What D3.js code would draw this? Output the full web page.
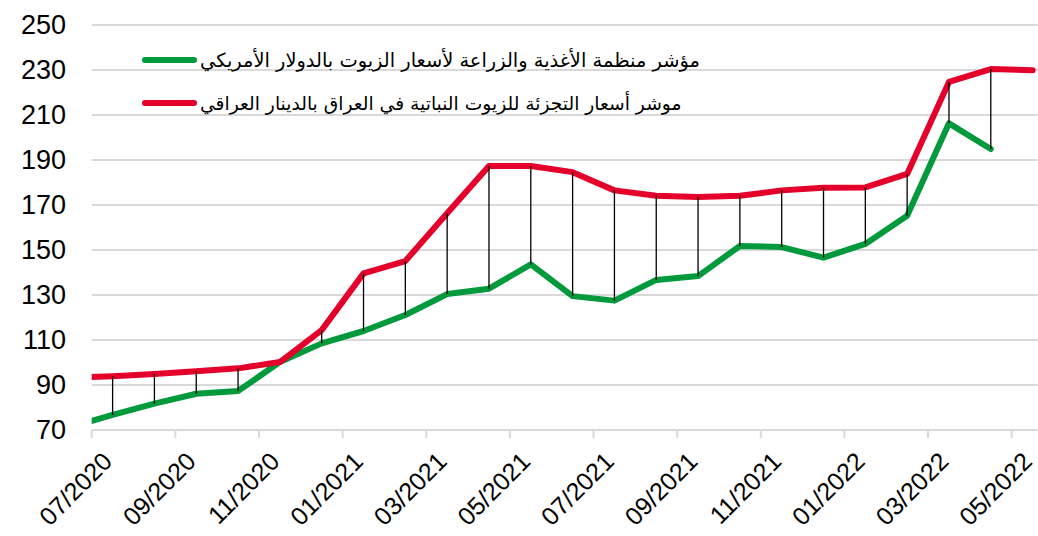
<!DOCTYPE html>
<html>
<head>
<meta charset="utf-8">
<script src="https://cdn.jsdelivr.net/npm/d3@7"></script>
<style>
  html, body { margin: 0; padding: 0; background: #ffffff; }
  svg { display: block; }
</style>
</head>
<body>
<svg id="chart" width="1038" height="536"></svg>
<script>
// ---- Data (monthly, starting 06/2020; first point is outside the visible axis) ----
const months = ["06/2020","07/2020","08/2020","09/2020","10/2020","11/2020","12/2020",
                "01/2021","02/2021","03/2021","04/2021","05/2021","06/2021","07/2021",
                "08/2021","09/2021","10/2021","11/2021","12/2021","01/2022","02/2022",
                "03/2022","04/2022","05/2022"];
const faoIndex = [71.4, 76.7, 81.7, 86.1, 87.3, 100.2, 108.5, 114.0, 121.1, 130.4, 132.8,
                  143.6, 129.5, 127.5, 136.7, 138.4, 151.8, 151.3, 146.6, 152.7, 165.2,
                  206.3, 194.9, null];
const retailIndex = [93.3, 93.9, 94.9, 96.1, 97.4, 100.2, 114.4, 139.6, 145.1, 166.3, 187.3,
                     187.3, 184.6, 176.5, 174.1, 173.6, 174.1, 176.5, 177.7, 177.8, 183.8,
                     224.7, 230.4, 229.9];
const xTickLabels = ["07/2020","09/2020","11/2020","01/2021","03/2021","05/2021",
                     "07/2021","09/2021","11/2021","01/2022","03/2022","05/2022"];
const yTicks = [70, 90, 110, 130, 150, 170, 190, 210, 230, 250];
const seriesNames = ["مؤشر منظمة الأغذية والزراعة لأسعار الزيوت بالدولار الأمريكي",
                     "موشر أسعار التجزئة للزيوت النباتية في العراق بالدينار العراقي"];

(function () {
// ---- Layout ----
const svg = d3.select("#chart");
const pLeft = 91.7, pRight = 1037.7, pTop = 25, pBottom = 430;
const monthPx = (1011.7 - 91.7) / 22;
const x = d3.scaleLinear().domain([0, (pRight - pLeft) / monthPx]).range([pLeft, pRight]);
const y = d3.scaleLinear().domain([70, 250]).range([pBottom, pTop]);
const green = "#009a3d", red = "#e4002b", grid = "#d9d9d9";

// month position: index 0 = 06/2020 -> centred in its month (-0.5)
const xPos = i => x(i - 0.5);
const labelMonthIndex = lbl => { // months from 07/2020
  const [m, yr] = lbl.split("/").map(Number);
  return (yr - 2020) * 12 + (m - 7);
};

svg.append("rect").attr("width", 1038).attr("height", 536).attr("fill", "#fff");

// gridlines
svg.append("g").selectAll("line").data(yTicks.filter(v => v > 70)).join("line")
  .attr("x1", pLeft).attr("x2", pRight)
  .attr("y1", d => y(d)).attr("y2", d => y(d))
  .attr("stroke", grid).attr("stroke-width", 2);

// x axis line + ticks
svg.append("line").attr("x1", pLeft).attr("x2", pRight)
  .attr("y1", pBottom).attr("y2", pBottom).attr("stroke", grid).attr("stroke-width", 2);
svg.append("g").selectAll("line").data(xTickLabels).join("line")
  .attr("x1", d => x(labelMonthIndex(d))).attr("x2", d => x(labelMonthIndex(d)))
  .attr("y1", pBottom).attr("y2", pBottom + 8)
  .attr("stroke", grid).attr("stroke-width", 2);

// y labels
svg.append("g").selectAll("text").data(yTicks).join("text")
  .attr("x", 66).attr("y", d => y(d))
  .attr("text-anchor", "end").attr("dominant-baseline", "central")
  .attr("font-family", "Liberation Sans, Arial, sans-serif").attr("font-size", 27)
  .attr("fill", "#000").text(d => d);

// x labels
svg.append("g").selectAll("text").data(xTickLabels).join("text")
  .attr("transform", d => `translate(${x(labelMonthIndex(d)) + 22},${pBottom + 33}) rotate(-45)`)
  .attr("text-anchor", "end")
  .attr("font-family", "Liberation Sans, Arial, sans-serif").attr("font-size", 25)
  .attr("fill", "#000").text(d => d);

// clip
svg.append("clipPath").attr("id", "plotclip").append("rect")
  .attr("x", pLeft).attr("y", 0).attr("width", pRight - pLeft + 4).attr("height", pBottom);

const plot = svg.append("g").attr("clip-path", "url(#plotclip)");
const line = d3.line().defined(d => d.v != null).x(d => xPos(d.i)).y(d => y(d.v));

const faoPts = faoIndex.map((v, i) => ({ i, v }));
const retPts = retailIndex.map((v, i) => ({ i, v }));

plot.append("path").datum(faoPts).attr("d", line)
  .attr("fill", "none").attr("stroke", green).attr("stroke-width", 6)
  .attr("stroke-linejoin", "round").attr("stroke-linecap", "round");
plot.append("path").datum(retPts).attr("d", line)
  .attr("fill", "none").attr("stroke", red).attr("stroke-width", 6)
  .attr("stroke-linejoin", "round").attr("stroke-linecap", "round");

// high-low lines
plot.append("g").selectAll("line")
  .data(months.map((m, i) => ({ i, a: faoIndex[i], b: retailIndex[i] })).filter(d => d.a != null && d.b != null))
  .join("line")
  .attr("x1", d => xPos(d.i)).attr("x2", d => xPos(d.i))
  .attr("y1", d => y(d.a)).attr("y2", d => y(d.b))
  .attr("stroke", "#000").attr("stroke-width", 1.3);

// legend
const legend = svg.append("g");
const legendRows = [
  { name: seriesNames[0], color: green, y: 60, width: 500 },
  { name: seriesNames[1], color: red, y: 103, width: 482 }
];
legendRows.forEach(r => {
  legend.append("line").attr("x1", 145).attr("x2", 194).attr("y1", r.y).attr("y2", r.y)
    .attr("stroke", r.color).attr("stroke-width", 6).attr("stroke-linecap", "round");
  const t = legend.append("text").attr("x", 200).attr("y", r.y)
    .attr("dominant-baseline", "central")
    .attr("font-family", "DejaVu Sans, Noto Sans, sans-serif").attr("font-size", 20)
    .attr("fill", "#000").text(r.name);
  const w = t.node().getComputedTextLength();
  if (w > 0) t.attr("font-size", 20 * r.width / w);
  const bb = t.node().getBBox();
  t.attr("x", 200 + (200 - bb.x)); // keep left edge at x=200
});
})();
</script>
</body>
</html>
